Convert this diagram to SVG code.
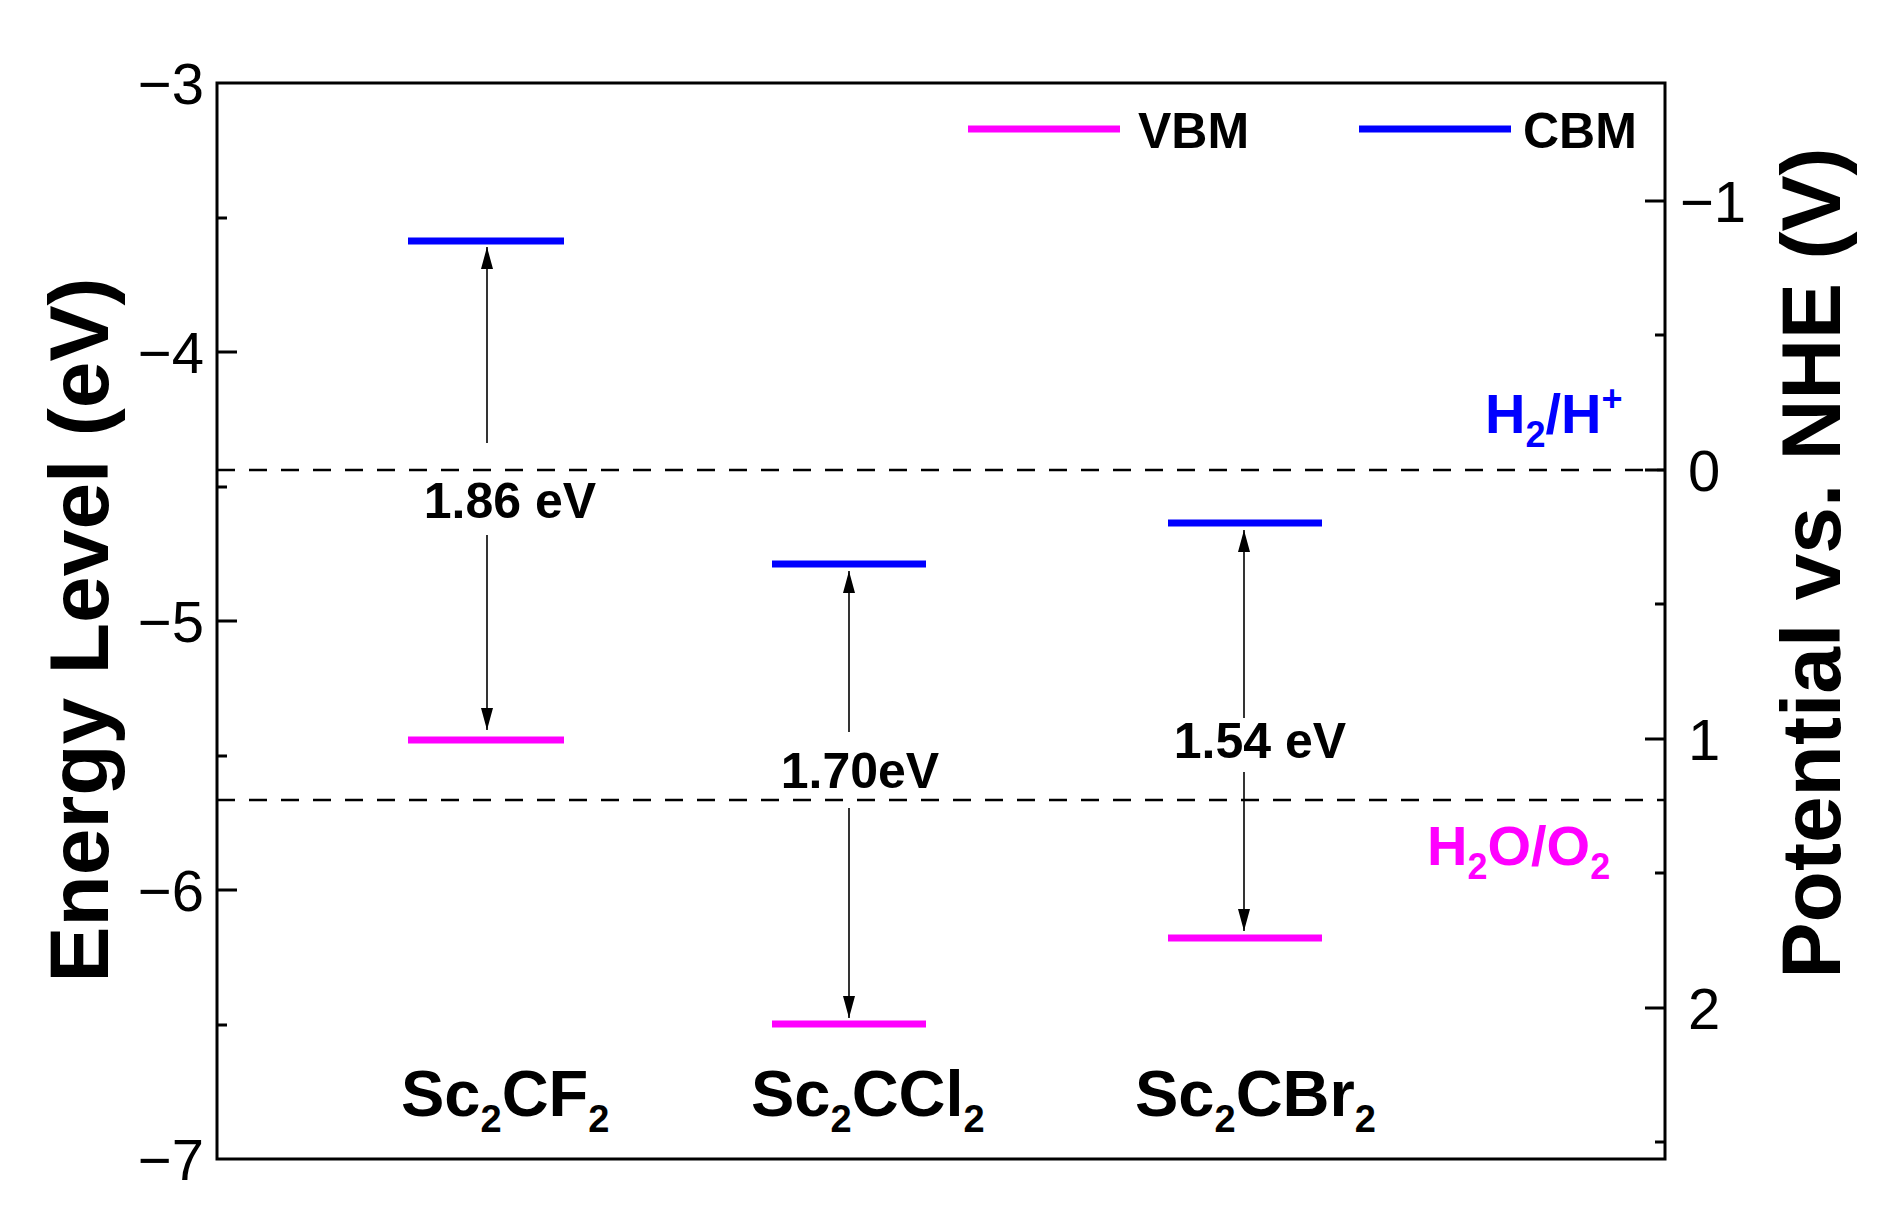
<svg xmlns="http://www.w3.org/2000/svg" width="1878" height="1231" viewBox="0 0 1878 1231">
<style>
text{font-family:"Liberation Sans",Arial,sans-serif;fill:#000}
.tick{font-size:58px}
.b{font-weight:bold}
.lvl{stroke-width:7;fill:none}
.vbm{stroke:#ff00ff}
.cbm{stroke:#0000ff}
.arr{stroke:#000;stroke-width:1.6;fill:none}
.dash{stroke:#000;stroke-width:2.5;stroke-dasharray:18 14;fill:none}
.ax{stroke:#000;stroke-width:3;fill:none}
</style>
<defs>
<marker id="ah" viewBox="0 0 10 10" refX="10" refY="5" markerWidth="10" markerHeight="10" markerUnits="userSpaceOnUse" orient="auto">
<path d="M0,0 L10,5 L0,10 z" fill="#000" transform="scale(1)"/>
</marker>
<marker id="ah2" viewBox="0 0 22 12" refX="22" refY="6" markerWidth="22" markerHeight="12" markerUnits="userSpaceOnUse" orient="auto">
<path d="M0,0 L22,6 L0,12 z" fill="#000"/>
</marker>
</defs>
<rect width="1878" height="1231" fill="#fff"/>
<g id="axes">
<rect x="217" y="83" width="1448" height="1076" class="ax"/>
<path class="ax" d="M217,218h10M217,352h20M217,487h10M217,621h20M217,756h10M217,890h20M217,1025h10"/>
<path class="ax" d="M1665,201h-20M1665,335h-10M1665,470h-20M1665,604h-10M1665,739h-20M1665,873h-10M1665,1008h-20M1665,1142h-10"/>
<text class="tick" x="204" y="104" text-anchor="end">−3</text>
<text class="tick" x="204" y="373" text-anchor="end">−4</text>
<text class="tick" x="204" y="642" text-anchor="end">−5</text>
<text class="tick" x="204" y="911" text-anchor="end">−6</text>
<text class="tick" x="204" y="1180" text-anchor="end">−7</text>
<text class="tick" x="1680" y="222">−1</text>
<text class="tick" x="1688" y="491">0</text>
<text class="tick" x="1688" y="760">1</text>
<text class="tick" x="1688" y="1029">2</text>
<text class="b" font-size="84" transform="translate(108,630) rotate(-90)" text-anchor="middle">Energy Level (eV)</text>
<text class="b" font-size="84" transform="translate(1840,563) rotate(-90)" text-anchor="middle">Potential vs. NHE (V)</text>
</g>
<g id="references">
<line class="dash" x1="217" y1="470" x2="1665" y2="470"/>
<line class="dash" x1="217" y1="800" x2="1665" y2="800"/>
<text class="b" font-size="56" x="1485" y="433" fill="#0000ff" style="fill:#0000ff">H<tspan font-size="36" dy="14">2</tspan><tspan dy="-14">/H</tspan><tspan font-size="36" dy="-22">+</tspan></text>
<text class="b" font-size="56" x="1427" y="865" style="fill:#ff00ff">H<tspan font-size="36" dy="14">2</tspan><tspan dy="-14">O/O</tspan><tspan font-size="36" dy="14">2</tspan></text>
</g>
<g id="legend">
<line class="lvl vbm" x1="968" y1="129" x2="1120" y2="129" stroke-width="6"/>
<text class="b" font-size="50" x="1138" y="148">VBM</text>
<line class="lvl cbm" x1="1359" y1="129" x2="1511" y2="129" stroke-width="6"/>
<text class="b" font-size="50" x="1523" y="148">CBM</text>
</g>
<g id="Sc2CF2">
<line class="lvl cbm" x1="408" y1="241" x2="564" y2="241"/>
<line class="lvl vbm" x1="408" y1="740" x2="564" y2="740"/>
<text class="b" font-size="65" x="401" y="1116">Sc<tspan font-size="38" dy="16">2</tspan><tspan dy="-16">CF</tspan><tspan font-size="38" dy="16">2</tspan></text>
</g>
<g id="Sc2CCl2">
<line class="lvl cbm" x1="772" y1="564" x2="926" y2="564"/>
<line class="lvl vbm" x1="772" y1="1024" x2="926" y2="1024"/>
<text class="b" font-size="65" x="751" y="1116">Sc<tspan font-size="38" dy="16">2</tspan><tspan dy="-16">CCl</tspan><tspan font-size="38" dy="16">2</tspan></text>
</g>
<g id="Sc2CBr2">
<line class="lvl cbm" x1="1168" y1="523" x2="1322" y2="523"/>
<line class="lvl vbm" x1="1168" y1="938" x2="1322" y2="938"/>
<text class="b" font-size="65" x="1135" y="1116">Sc<tspan font-size="38" dy="16">2</tspan><tspan dy="-16">CBr</tspan><tspan font-size="38" dy="16">2</tspan></text>
</g>
<g id="connectors">
<line class="arr" x1="487" y1="443" x2="487" y2="247" marker-end="url(#ah2)"/>
<line class="arr" x1="487" y1="535" x2="487" y2="730" marker-end="url(#ah2)"/>
<text class="b" font-size="50" x="510" y="518" text-anchor="middle">1.86 eV</text>
<line class="arr" x1="849" y1="732" x2="849" y2="571" marker-end="url(#ah2)"/>
<line class="arr" x1="849" y1="808" x2="849" y2="1018" marker-end="url(#ah2)"/>
<text class="b" font-size="50" x="860" y="788" text-anchor="middle">1.70eV</text>
<line class="arr" x1="1244" y1="718" x2="1244" y2="530" marker-end="url(#ah2)"/>
<line class="arr" x1="1244" y1="772" x2="1244" y2="931" marker-end="url(#ah2)"/>
<text class="b" font-size="50" x="1260" y="758" text-anchor="middle">1.54 eV</text>
</g>
</svg>
